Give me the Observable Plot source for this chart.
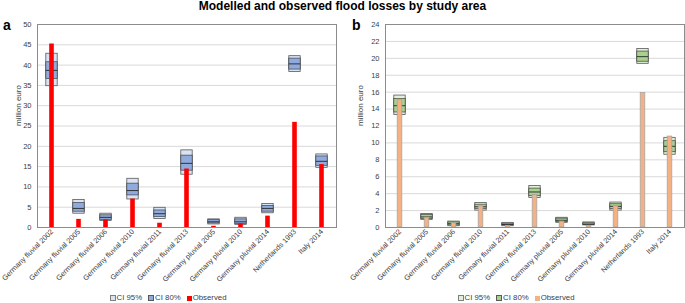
<!DOCTYPE html>
<html>
<head>
<meta charset="utf-8">
<script src="https://cdn.jsdelivr.net/npm/d3@7"></script>
<script src="https://cdn.jsdelivr.net/npm/@observablehq/plot@0.6"></script>
<style>
  body { margin: 0; background: #fff; font-family: "Liberation Sans", Arial, sans-serif; }
  #wrap { position: relative; width: 685px; height: 303px; overflow: hidden; }
  #title { position: absolute; top: 0; left: 0; width: 685px; text-align: center; font-weight: bold; font-size: 12px; color: #000; line-height: 13px; }
  .plab { position: absolute; top: 17px; font-weight: bold; font-size: 14px; color: #000; }
  .panel { position: absolute; top: 0; }
  .panel svg { overflow: visible; }
  .legend { position: absolute; top: 293px; font-size: 7.8px; color: #404040; white-space: nowrap; line-height: 9px; }
  .legend span.sw { display: inline-block; width: 5px; height: 5px; margin-right: 1px; vertical-align: -0.5px; }
  .legend span.item { margin-right: 6px; }
</style>
</head>
<body>
<div id="wrap">
  <div id="title">Modelled and observed flood losses by study area</div>
  <div class="plab" style="left:3px">a</div>
  <div class="plab" style="left:352px">b</div>
  <div id="pa" class="panel" style="left:0px"></div>
  <div id="pb" class="panel" style="left:342px"></div>
  <div id="la" class="legend"></div>
  <div id="lb" class="legend"></div>
</div>
<script>
const categories = ["Germany fluvial 2002","Germany fluvial 2005","Germany fluvial 2006","Germany fluvial 2010","Germany fluvial 2011","Germany fluvial 2013","Germany pluvial 2005","Germany pluvial 2010","Germany pluvial 2014","Netherlands 1993","Italy 2014"];

// Panel a
const aLo95 = [34.8, 3.4, 1.6, 6.9, 2.1, 13.0, 0.75, 0.65, 3.5, 38.3, 14.7];
const aHi95 = [42.8, 6.8, 3.4, 12.0, 4.85, 19.0, 2.0, 2.4, 5.8, 42.2, 18.0];
const aLo80 = [36.6, 3.9, 1.9, 7.9, 2.6, 14.0, 1.0, 0.9, 3.9, 38.9, 15.2];
const aHi80 = [40.7, 6.0, 3.0, 10.8, 4.2, 17.7, 1.8, 2.0, 5.3, 41.6, 17.5];
const aMed  = [38.7, 4.7, 2.5, 9.1, 3.4, 15.8, 1.4, 1.4, 4.7, 40.3, 16.3];
const aObs  = [45.2, 2.0, 1.9, 7.0, 1.05, 14.4, 0.3, 0.9, 2.8, 25.9, 15.5];
const aTicks = [0,5,10,15,20,25,30,35,40,45,50];

// Panel b
const bLo95 = [13.3, 0.9, 0.15, 2.0, 0.15, 3.5, 0.55, 0.25, 2.0, 19.35, 8.6];
const bHi95 = [15.6, 1.6, 0.7, 2.9, 0.55, 4.9, 1.15, 0.6, 2.95, 21.1, 10.6];
const bLo80 = [13.6, 1.0, 0.25, 2.2, 0.25, 3.7, 0.65, 0.3, 2.2, 19.6, 8.9];
const bHi80 = [15.2, 1.5, 0.6, 2.7, 0.45, 4.6, 1.05, 0.5, 2.75, 20.8, 10.2];
const bMed  = [14.4, 1.25, 0.45, 2.45, 0.35, 4.2, 0.85, 0.4, 2.5, 20.2, 9.6];
const bObs  = [15.1, 1.15, 0.5, 2.5, 0.2, 3.85, 0.7, 0.2, 2.5, 15.9, 10.75];
const bTicks = [0,2,4,6,8,10,12,14,16,18,20,22,24];

const legendLabels = ["CI 95%", "CI 80%", "Observed"];

function rows(lo95, hi95, lo80, hi80, med, obs) {
  return categories.map((c, i) => ({cat: c, lo95: lo95[i], hi95: hi95[i], lo80: lo80[i], hi80: hi80[i], med: med[i], obs: obs[i]}));
}

function panel(data, ticks, opts) {
  const ymax = ticks[ticks.length - 1];
  return Plot.plot({
    width: opts.width,
    height: 290,
    marginTop: 24,
    marginBottom: 63,
    marginLeft: opts.ml,
    marginRight: opts.mr,
    style: {fontFamily: '"Liberation Sans", Arial, sans-serif', fontSize: "7.3px", color: "#404040", background: "transparent"},
    x: {type: "band", domain: categories, padding: 0, label: null},
    y: {domain: [0, ymax], ticks: ticks, label: null},
    marks: [
      Plot.gridY(ticks, {stroke: "#d9d9d9", strokeOpacity: 1, strokeWidth: 1}),
      Plot.axisY({ticks: ticks, tickSize: 0, tickPadding: 6, label: null, fill: "#404040", fontSize: 7.5}),
      Plot.axisX({tickRotate: -45, tickSize: 0, tickPadding: 3, label: null, fill: "#404040", fontSize: 7.3}),
      Plot.text(["million euro"], {frameAnchor: "left", dx: -(opts.ml - 18), rotate: -90, fontSize: 8, fill: "#404040"}),
      Plot.barY(data, {x: "cat", y1: "lo95", y2: "hi95", fill: opts.c95, stroke: "#595959", strokeWidth: 0.8, insetLeft: 7.8, insetRight: 7.8}),
      Plot.barY(data, {x: "cat", y1: "lo80", y2: "hi80", fill: opts.c80, stroke: "#404040", strokeWidth: 0.7, insetLeft: 7.8, insetRight: 7.8}),
      Plot.tickY(data, {x: "cat", y: "med", stroke: "#262626", strokeWidth: 0.9, insetLeft: 7.8, insetRight: 7.8}),
      Plot.barY(data, {x: "cat", y: "obs", fill: opts.cObs, stroke: opts.sObs, strokeWidth: opts.sObs ? 0.8 : 0, insetLeft: 11.2, insetRight: 11.2}),
      Plot.ruleY([0], {stroke: "#8c8c8c"}),
      Plot.frame({stroke: "#8c8c8c", strokeWidth: 1})
    ]
  });
}

const A = panel(rows(aLo95, aHi95, aLo80, aHi80, aMed, aObs), aTicks,
  {width: 342, ml: 37, mr: 6, c95: "#dae3f3", c80: "#8faadc", cObs: "#ff0000", sObs: null});
const B = panel(rows(bLo95, bHi95, bLo80, bHi80, bMed, bObs), bTicks,
  {width: 343, ml: 43, mr: 1, c95: "#e2f0d9", c80: "#a9d18e", cObs: "#f4b183", sObs: "#a6a6a6"});
document.getElementById("pa").appendChild(A);
document.getElementById("pb").appendChild(B);

function legend(el, c95, c80, cObs, center) {
  const sw = [
    `background:${c95};border:0.8px solid #7f7f7f;width:4px;height:4px`,
    `background:${c80};border:0.8px solid #595959;width:4px;height:4px`,
    `background:${cObs};`
  ];
  el.innerHTML = legendLabels.map((t, i) => `<span class="item"><span class="sw" style="${sw[i]}"></span>${t}</span>`).join("");
  const w = el.getBoundingClientRect().width;
  el.style.left = (center - w / 2) + "px";
}
legend(document.getElementById("la"), "#dae3f3", "#8faadc", "#ff0000", 171);
legend(document.getElementById("lb"), "#e2f0d9", "#a9d18e", "#f4b183", 519);
</script>
</body>
</html>
